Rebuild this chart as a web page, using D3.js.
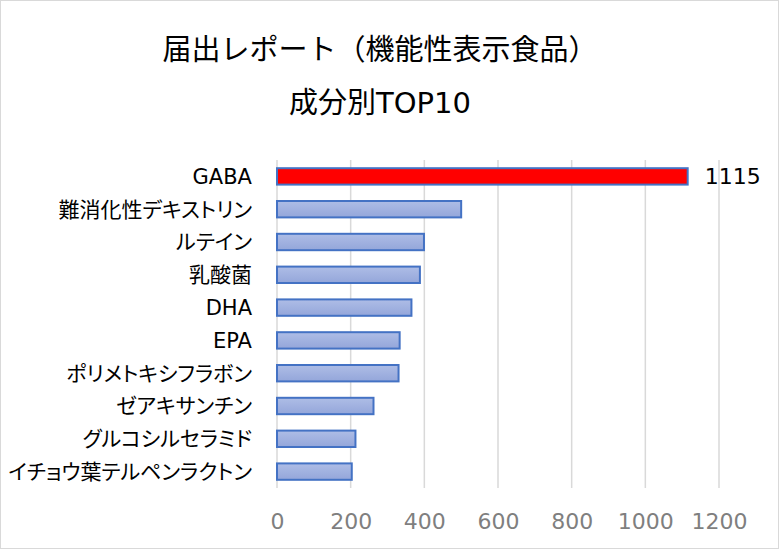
<!DOCTYPE html>
<html><head><meta charset="utf-8">
<script src="https://cdn.jsdelivr.net/npm/d3@7"></script>
<style>
html,body{margin:0;padding:0;background:#fff;}
svg{display:block;}
text{font-family:"DejaVu Sans","Noto Sans CJK JP",sans-serif;font-feature-settings:"palt";}
text.title{font-feature-settings:normal;}
</style></head>
<body>
<svg id="c" width="779" height="549"></svg>
<script>
const categories = ["GABA","難消化性デキストリン","ルテイン","乳酸菌","DHA","EPA","ポリメトキシフラボン","ゼアキサンチン","グルコシルセラミド","イチョウ葉テルペンラクトン"];
const values = [1115, 500, 399, 388, 365, 333, 330, 262, 213, 203];
const xTicks = [0, 200, 400, 600, 800, 1000, 1200];
const titleLines = ["届出レポート（機能性表示食品）", "成分別TOP10"];
const labeledValues = ["GABA"];

const svg = d3.select("#c");
const W = 779, H = 549;
svg.append("rect").attr("x",0.5).attr("y",0.5).attr("width",W-1).attr("height",H-1)
  .attr("fill","#fff").attr("stroke","#d9d9d9");

const defs = svg.append("defs");
const g = defs.append("linearGradient").attr("id","bl").attr("x1",0).attr("y1",0).attr("x2",0).attr("y2",1);
g.append("stop").attr("offset","0%").attr("stop-color","#aebde6");
g.append("stop").attr("offset","100%").attr("stop-color","#94a6da");

const x = d3.scaleLinear().domain([0,1200]).range([277, 719]);
const y = d3.scaleBand().domain(categories).range([160, 488]).paddingInner(0.5).paddingOuter(0.25);

// gridlines
svg.append("g").selectAll("line").data(xTicks).join("line")
  .attr("x1",d=>x(d)).attr("x2",d=>x(d)).attr("y1",160).attr("y2",488)
  .attr("stroke","#d9d9d9").attr("stroke-width",1.5);

// axis labels
const xAxis = d3.axisBottom(x).tickValues(xTicks).tickFormat(d3.format("d")).tickSize(0).tickPadding(0);
const ax = svg.append("g").attr("transform","translate(0,521)").call(xAxis);
ax.select(".domain").remove();
ax.attr("font-family",null);
ax.selectAll("text").attr("font-size",22).attr("fill","#7f7f7f").attr("dy","0.35em");

// category labels
const yAxis = d3.axisLeft(y).tickSize(0).tickPadding(0);
const ay = svg.append("g").attr("transform","translate(252,0)").call(yAxis);
ay.select(".domain").remove();
ay.attr("font-family",null).attr("font-size",null);
ay.selectAll("text").attr("font-size",21).attr("fill","#000").attr("dy","0.35em");

// bars
svg.append("g").selectAll("rect").data(categories).join("rect")
  .attr("x",x(0)).attr("y",d=>y(d))
  .attr("width",(d,i)=>x(values[i])-x(0)).attr("height",y.bandwidth())
  .attr("fill",d=>d==="GABA"?"#ff0000":"url(#bl)")
  .attr("stroke","#4472c4").attr("stroke-width",2);

// value label
svg.append("g").selectAll("text").data(categories.filter(c=>labeledValues.includes(c))).join("text")
  .attr("x",d=>x(values[categories.indexOf(d)])+17)
  .attr("y",d=>y(d)+y.bandwidth()/2).attr("dy","0.35em")
  .attr("font-size",22).attr("fill","#000")
  .text(d=>values[categories.indexOf(d)]);

// title
svg.append("g").selectAll("text").data(titleLines).join("text")
  .attr("class","title")
  .attr("x",380).attr("y",(d,i)=>50+i*53).attr("dy","0.35em")
  .attr("text-anchor","middle").attr("font-size",29).attr("fill","#000")
  .text(d=>d);
</script>
</body></html>
